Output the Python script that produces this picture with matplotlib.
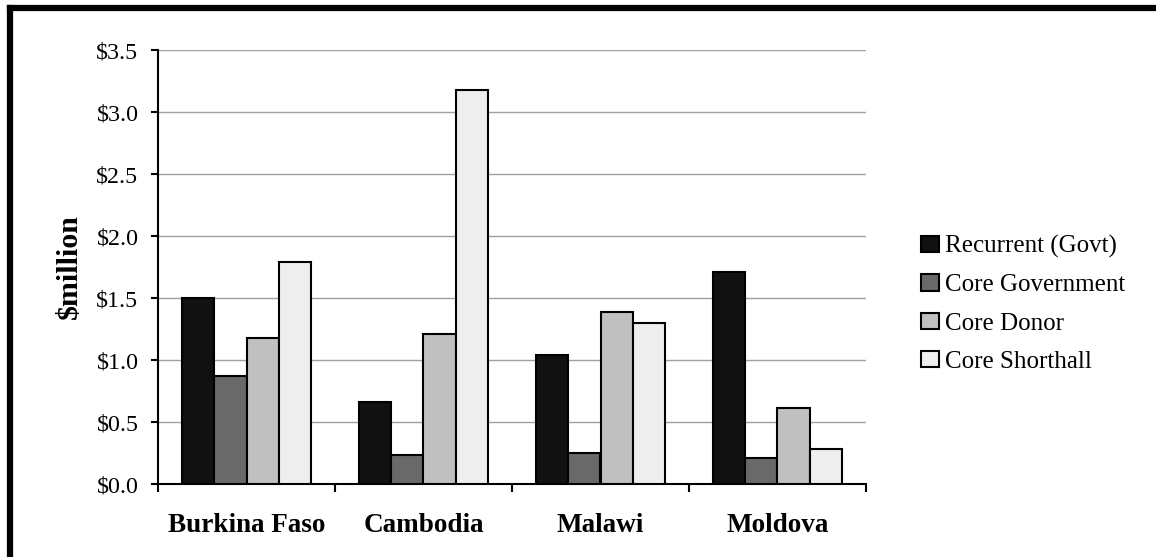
import numpy as np
import matplotlib.pyplot as plt
from matplotlib.lines import Line2D

plt.rcParams['font.family'] = ['Liberation Serif', 'DejaVu Serif']
plt.rcParams['text.parse_math'] = False

countries = ["Burkina Faso", "Cambodia", "Malawi", "Moldova"]
series = ["Recurrent (Govt)", "Core Government", "Core Donor", "Core Shorthall"]
recurrent = [1.50, 0.66, 1.04, 1.71]
core_gov = [0.87, 0.23, 0.25, 0.21]
core_donor = [1.18, 1.21, 1.39, 0.61]
core_shorthall = [1.79, 3.18, 1.30, 0.28]
colors = ["#111111", "#696969", "#c0c0c0", "#eeeeee"]

values = [recurrent, core_gov, core_donor, core_shorthall]

fig = plt.figure(figsize=(11.56, 5.57), dpi=100)
ax = fig.add_axes([158/1156, 1-484/557, (866-158)/1156, (484-50)/557])

x = np.arange(len(countries))
w = 1.0 / 5.5
for i, (vals, c, name) in enumerate(zip(values, colors, series)):
    ax.bar(x + (i - 1.5) * w, vals, w, color=c, edgecolor="black",
           linewidth=1.5, label=name, zorder=3)

ax.set_xlim(-0.5, len(countries) - 0.5)
ax.set_ylim(0, 3.5)
yt = np.arange(0, 3.51, 0.5)
ax.set_yticks(yt)
ax.set_yticklabels(["$%.1f" % v for v in yt], fontsize=17.3)
ax.yaxis.grid(True, color="#a0a0a0", linewidth=1, zorder=0)

ax.set_xticks(x)
ax.set_xticklabels(countries, fontsize=19.5, fontweight="bold")
ax.tick_params(axis="x", which="major", length=0, pad=21)
ax.set_xticks(np.arange(-0.5, len(countries), 1.0), minor=True)
ax.tick_params(axis="x", which="minor", length=6, width=1.5, direction="out")
ax.tick_params(axis="y", length=5, width=1.5, direction="out", pad=9)

for s in ["top", "right"]:
    ax.spines[s].set_visible(False)
for s in ["left", "bottom"]:
    ax.spines[s].set_linewidth(1.5)

ax.set_ylabel("$million", fontsize=21.5, fontweight="bold", labelpad=10)

ax.legend(loc="upper left", bbox_to_anchor=(921/1156, 1-235/557),
          bbox_transform=fig.transFigure, frameon=False, fontsize=18,
          handlelength=0.72, handleheight=0.64, handletextpad=0.24,
          labelspacing=0.65, borderpad=0, borderaxespad=0)

# thick frame at top and left edges
fig.add_artist(Line2D([10/1156, 1.05], [1-8/557, 1-8/557], color="black",
                      linewidth=4.5, transform=fig.transFigure,
                      solid_capstyle="projecting"))
fig.add_artist(Line2D([10/1156, 10/1156], [-0.05, 1-8/557], color="black",
                      linewidth=4.5, transform=fig.transFigure,
                      solid_capstyle="projecting"))

plt.savefig("out.png", dpi=100)
